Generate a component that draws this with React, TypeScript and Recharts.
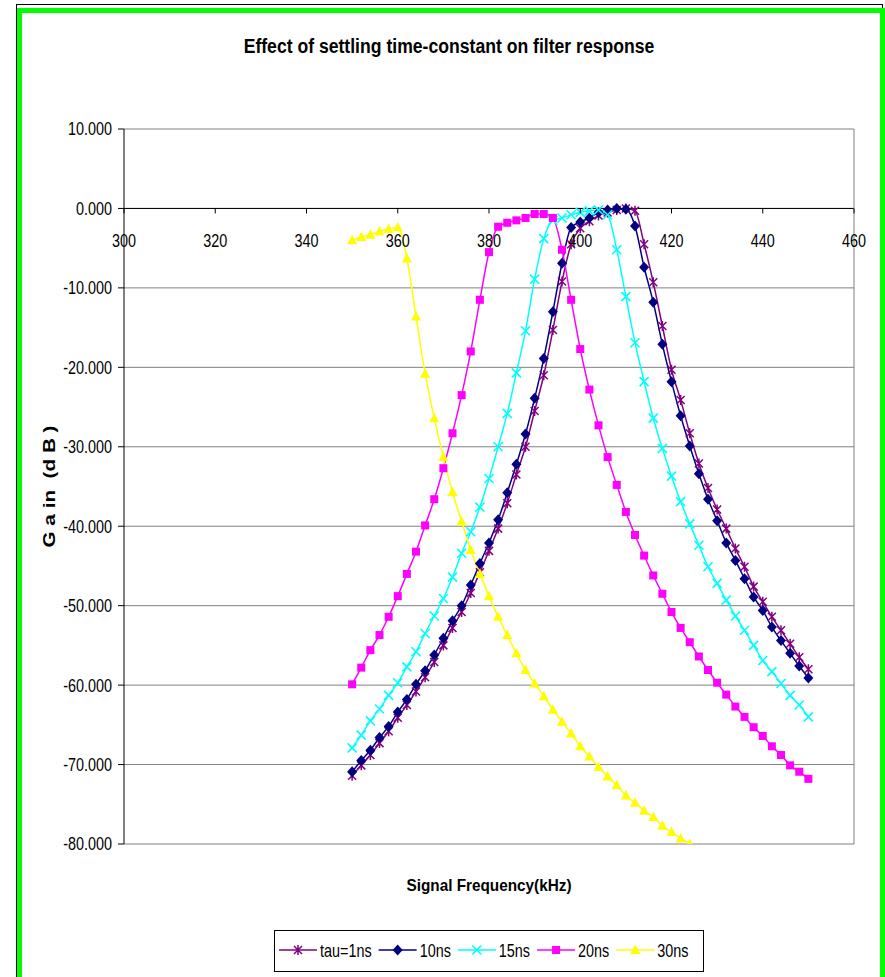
import React from 'react';
import { LineChart, Line, XAxis, YAxis, CartesianGrid, ReferenceLine, Legend } from 'recharts';

// signal frequency in kHz, one point every 2 kHz
const frequencies = [
  350, 352, 354, 356, 358, 360, 362, 364, 366, 368,
  370, 372, 374, 376, 378, 380, 382, 384, 386, 388,
  390, 392, 394, 396, 398, 400, 402, 404, 406, 408,
  410, 412, 414, 416, 418, 420, 422, 424, 426, 428,
  430, 432, 434, 436, 438, 440, 442, 444, 446, 448,
  450,
];

// gain in dB
const tau1ns = [
  -71.4, -70.1, -68.8, -67.3, -65.8, -64.1, -62.5, -60.8, -59.0, -57.1,
  -55.0, -52.8, -50.8, -48.4, -45.8, -43.1, -40.3, -37.1, -33.5, -30.0,
  -25.5, -21.0, -15.3, -9.2, -4.5, -2.5, -1.6, -0.9, -0.5, -0.2,
  0.0, -0.3, -4.5, -9.3, -14.8, -20.3, -24.1, -28.3, -32.1, -35.2,
  -37.9, -40.3, -42.8, -45.1, -47.6, -49.5, -51.4, -53.1, -54.8, -56.5,
  -58.0,
];

const tau10ns = [
  -70.9, -69.5, -68.2, -66.6, -65.2, -63.4, -61.8, -59.9, -58.2, -56.2,
  -54.1, -51.9, -50.0, -47.4, -44.7, -42.1, -39.2, -35.8, -32.2, -28.4,
  -23.9, -18.9, -13.0, -6.9, -2.4, -1.7, -1.2, -0.5, -0.2, 0.0,
  -0.1, -2.2, -7.4, -11.8, -17.1, -21.8, -26.1, -29.9, -33.4, -36.6,
  -39.3, -42.1, -44.3, -46.6, -48.9, -50.6, -52.7, -54.4, -56.0, -57.6,
  -59.1,
];

const tau15ns = [
  -67.9, -66.3, -64.5, -63.0, -61.3, -59.7, -57.7, -55.8, -53.5, -51.3,
  -49.1, -46.4, -43.4, -40.7, -37.6, -34.0, -30.0, -25.8, -20.7, -15.4,
  -8.9, -3.8, -1.5, -1.2, -0.8, -0.5, -0.3, -0.2, -0.8, -5.2,
  -11.1, -16.9, -21.8, -26.4, -30.2, -33.7, -36.9, -39.7, -42.4, -45.1,
  -47.2, -49.3, -51.3, -53.1, -55.0, -56.9, -58.3, -59.8, -61.3, -62.5,
  -64.0,
];

const tau20ns = [
  -59.9, -57.8, -55.6, -53.7, -51.4, -48.8, -46.0, -43.2, -39.9, -36.6,
  -32.7, -28.3, -23.5, -18.0, -11.5, -5.5, -2.3, -1.8, -1.5, -1.2,
  -0.7, -0.7, -1.2, -5.2, -11.5, -17.7, -22.8, -27.3, -31.3, -34.8,
  -38.2, -41.1, -43.7, -46.2, -48.5, -50.8, -52.8, -54.6, -56.4, -58.1,
  -59.7, -61.2, -62.7, -64.0, -65.3, -66.4, -67.7, -68.8, -70.1, -70.9,
  -71.8,
];

// stops at 426 kHz (runs off the bottom of the plot)
const tau30ns = [
  -4.0, -3.6, -3.3, -2.9, -2.6, -2.4, -6.3, -13.6, -20.8, -26.4,
  -31.3, -35.7, -39.4, -43.0, -46.0, -48.8, -51.4, -53.7, -56.0, -58.1,
  -59.8, -61.4, -63.1, -64.6, -66.1, -67.7, -69.0, -70.3, -71.5, -72.6,
  -73.9, -74.8, -75.8, -76.6, -77.7, -78.5, -79.3, -80.0, -81.0,
];

const xTicks = [300, 320, 340, 360, 380, 400, 420, 440, 460];
const yTicks = [10, 0, -10, -20, -30, -40, -50, -60, -70, -80];

const series = [
  { key: 'tau1', name: 'tau=1ns', color: '#800080', marker: 'star' },
  { key: 'tau10', name: '10ns', color: '#000080', marker: 'diamond' },
  { key: 'tau15', name: '15ns', color: '#00ffff', marker: 'x' },
  { key: 'tau20', name: '20ns', color: '#ff00ff', marker: 'square' },
  { key: 'tau30', name: '30ns', color: '#ffff00', marker: 'triangle' },
];

const data = frequencies.map((f, i) => ({
  f,
  tau1: tau1ns[i],
  tau10: tau10ns[i],
  tau15: tau15ns[i],
  tau20: tau20ns[i],
  tau30: i < tau30ns.length ? tau30ns[i] : null,
}));

// no narrow font available, so Liberation Sans gets squeezed horizontally
const FONT = "'Liberation Sans', Arial, sans-serif";
const SQUEEZE = 0.8;

const PLOT_TOP = 129;
const PLOT_H = 715;
const Y_MAX = 10;
const Y_MIN = -80;
const zeroY = PLOT_TOP + (PLOT_H * Y_MAX) / (Y_MAX - Y_MIN);

// Arial advance widths (em) for the legend text
const charW: Record<string, number> = { t: 0.278, a: 0.556, u: 0.556, '=': 0.584, n: 0.556, s: 0.5 };
const textW = (s: string, size: number) =>
  s.split('').reduce((w, c) => w + (charW[c] ?? 0.556), 0) * size * SQUEEZE;

function Marker({ kind, cx, cy, color }: { kind: string; cx: number; cy: number; color: string }) {
  switch (kind) {
    case 'star':
      return (
        <path
          d={`M${cx - 4},${cy - 4}L${cx + 4},${cy + 4}M${cx - 4},${cy + 4}L${cx + 4},${cy - 4}M${cx},${cy - 5}L${cx},${cy + 5}`}
          stroke={color}
          strokeWidth={1.5}
          fill="none"
        />
      );
    case 'diamond':
      return <polygon points={`${cx},${cy - 5.5} ${cx + 5},${cy} ${cx},${cy + 5.5} ${cx - 5},${cy}`} fill={color} />;
    case 'x':
      return (
        <path
          d={`M${cx - 4.5},${cy - 4.5}L${cx + 4.5},${cy + 4.5}M${cx - 4.5},${cy + 4.5}L${cx + 4.5},${cy - 4.5}`}
          stroke={color}
          strokeWidth={1.6}
          fill="none"
        />
      );
    case 'square':
      return <rect x={cx - 4} y={cy - 4} width={8} height={8} fill={color} />;
    case 'triangle':
      return <polygon points={`${cx},${cy - 5.5} ${cx + 5},${cy + 4} ${cx - 5},${cy + 4}`} fill={color} />;
    default:
      return null;
  }
}

function renderDot(kind: string, color: string) {
  return (props: any) => {
    const { cx, cy, index } = props;
    if (cx == null || cy == null) return <g key={`d-${index}`} />;
    return (
      <g key={`d-${index}`}>
        <Marker kind={kind} cx={cx} cy={cy} color={color} />
      </g>
    );
  };
}

function NarrowText({ x, y, children, anchor = 'middle', size = 18, bold = false, rotate = 0, dy }: any) {
  return (
    <text
      transform={`translate(${x},${y}) rotate(${rotate}) scale(${SQUEEZE},1)`}
      textAnchor={anchor}
      dy={dy}
      fontFamily={FONT}
      fontSize={size}
      fontWeight={bold ? 'bold' : 'normal'}
      fill="#000"
      style={{ whiteSpace: 'pre' }}
    >
      {children}
    </text>
  );
}

function XTick(props: any) {
  const { x, payload } = props;
  return (
    <g>
      <line x1={x} x2={x} y1={zeroY} y2={zeroY + 5} stroke="#000" />
      <NarrowText x={x} y={zeroY + 39}>
        {payload.value}
      </NarrowText>
    </g>
  );
}

function YTick(props: any) {
  const { x, y, payload } = props;
  return (
    <NarrowText x={x} y={y} anchor="end" dy="0.355em">
      {Number(payload.value).toFixed(3)}
    </NarrowText>
  );
}

function LegendBox() {
  let pos = 5;
  const items = series.map((s) => {
    const x0 = pos;
    const w = textW(s.name, 18);
    pos += 38 + 3 + w + 7;
    return (
      <g key={s.key}>
        <line x1={x0} x2={x0 + 38} y1={20} y2={20} stroke={s.color} strokeWidth={1.5} />
        <Marker kind={s.marker} cx={x0 + 19} cy={20} color={s.color} />
        <NarrowText x={x0 + 41} y={26.5} anchor="start">
          {s.name}
        </NarrowText>
      </g>
    );
  });
  return (
    <svg width={430} height={42} style={{ display: 'block' }}>
      <rect x={0.5} y={0.5} width={429} height={41} fill="#fff" stroke="#000" />
      {items}
    </svg>
  );
}

export default function App() {
  return (
    <div style={{ position: 'absolute', left: 0, top: 0, width: 885, height: 977, background: '#fff', overflow: 'hidden' }}>
      <div
        style={{
          position: 'absolute',
          left: 16,
          top: 4,
          width: 867,
          height: 1000,
          border: '1px solid #000',
          boxSizing: 'border-box',
        }}
      />
      <div
        style={{
          position: 'absolute',
          left: 17,
          top: 8,
          width: 868,
          height: 1000,
          border: '5px solid #00ff00',
          boxSizing: 'border-box',
        }}
      />
      <div
        style={{
          position: 'absolute',
          left: 199,
          top: 35,
          width: 500,
          textAlign: 'center',
          whiteSpace: 'nowrap',
          fontFamily: FONT,
          fontWeight: 'bold',
          fontSize: 20,
          lineHeight: '22px',
          transform: 'scaleX(0.88)',
          transformOrigin: 'center',
        }}
      >
        Effect of settling time-constant on filter response
      </div>
      <div style={{ position: 'absolute', left: 0, top: 0 }}>
        <LineChart width={885} height={977} data={data} margin={{ top: 129, right: 31, left: 24, bottom: 103 }}>
          <CartesianGrid horizontal vertical={false} stroke="#808080" />
          <XAxis
            dataKey="f"
            type="number"
            domain={[300, 460]}
            ticks={xTicks}
            axisLine={false}
            tickLine={false}
            height={30}
            tick={<XTick />}
            label={{
              content: (p: any) => {
                const vb = p.viewBox;
                return (
                  <text
                    x={vb.x + vb.width / 2}
                    y={vb.y + 47}
                    textAnchor="middle"
                    textLength={165}
                    lengthAdjust="spacingAndGlyphs"
                    fontFamily={FONT}
                    fontWeight="bold"
                    fontSize={17}
                  >
                    Signal Frequency(kHz)
                  </text>
                );
              },
            }}
          />
          <YAxis
            type="number"
            domain={[Y_MIN, Y_MAX]}
            ticks={yTicks}
            allowDataOverflow
            width={100}
            tickSize={6}
            tickMargin={6}
            axisLine={{ stroke: '#000' }}
            tickLine={{ stroke: '#000' }}
            tick={<YTick />}
            label={{
              content: (p: any) => {
                const vb = p.viewBox;
                const cx = vb.x + 27;
                const cy = vb.y + vb.height / 2;
                return (
                  <text
                    x={cx}
                    y={cy}
                    transform={`rotate(-90, ${cx}, ${cy})`}
                    textAnchor="middle"
                    dominantBaseline="middle"
                    textLength={122}
                    lengthAdjust="spacingAndGlyphs"
                    fontFamily={FONT}
                    fontWeight="bold"
                    fontSize={17}
                    style={{ whiteSpace: 'pre' }}
                  >
                    {'G a in  (d B )'}
                  </text>
                );
              },
            }}
          />
          <ReferenceLine y={0} stroke="#000" />
          <ReferenceLine x={460} stroke="#808080" />
          {series.map((s) => (
            <Line
              key={s.key}
              dataKey={s.key}
              name={s.name}
              type="monotone"
              stroke={s.color}
              strokeWidth={1.5}
              dot={renderDot(s.marker, s.color)}
              activeDot={false}
              isAnimationActive={false}
            />
          ))}
          <Legend
            layout="horizontal"
            verticalAlign="middle"
            align="center"
            content={<LegendBox />}
            wrapperStyle={{ position: 'absolute', left: 274, top: 930, width: 430, height: 42 }}
          />
        </LineChart>
      </div>
    </div>
  );
}
